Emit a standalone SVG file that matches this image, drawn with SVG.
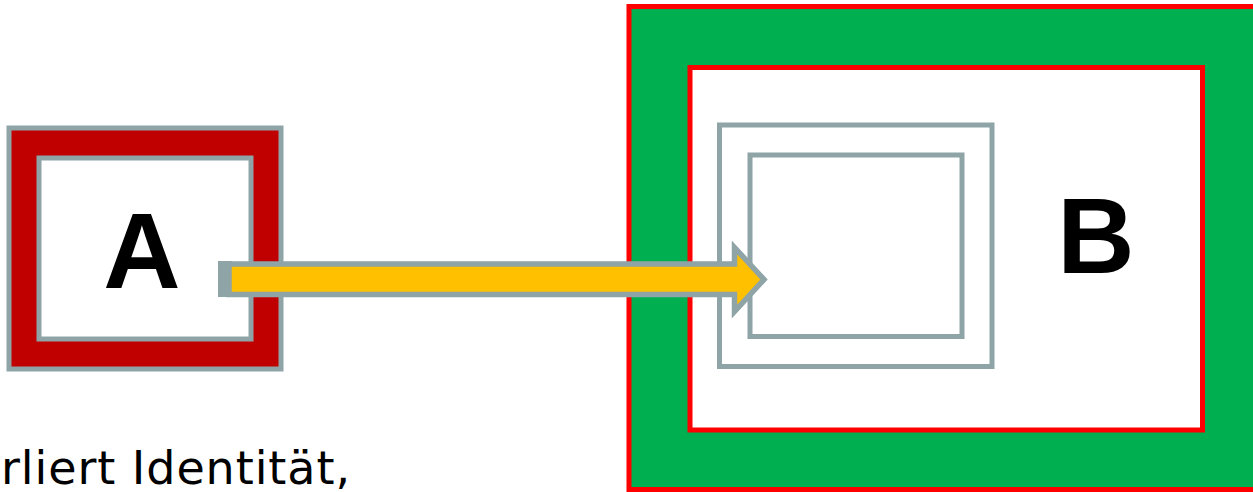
<svg xmlns="http://www.w3.org/2000/svg" width="1253" height="492" viewBox="0 0 1253 492">
  <style>
    .gray { fill: none; stroke: #8EA4A7; stroke-width: 5; }
    .red { stroke: #FF0000; stroke-width: 5; }
    .big { font-family: "Liberation Sans", Arial, sans-serif; font-weight: bold; font-size: 107px; fill: #000000; }
    .note { font-family: "DejaVu Sans", Verdana, sans-serif; font-size: 46px; fill: #000000; }
  </style>
  <rect x="0" y="0" width="1253" height="492" fill="#FFFFFF"/>
  <g id="nodeA">
    <rect x="9" y="128" width="272" height="241" fill="#C00000" stroke="#8EA4A7" stroke-width="5"/>
    <rect x="39" y="158" width="212" height="181" fill="#FFFFFF" stroke="#8EA4A7" stroke-width="5"/>
    <text class="big" x="142" y="288" text-anchor="middle">A</text>
  </g>
  <g id="nodeB">
    <rect class="red" x="629" y="6.5" width="640" height="483" fill="#00B050"/>
    <rect class="red" x="690" y="67.5" width="512.5" height="362.5" fill="#FFFFFF"/>
    <rect class="gray" x="719.5" y="125" width="272.5" height="241.5"/>
    <rect class="gray" x="750" y="155" width="212" height="181.5"/>
    <text class="big" x="1096" y="273" text-anchor="middle">B</text>
  </g>
  <g id="connectors">
    <rect x="218" y="261" width="14" height="36" fill="#8EA4A7"/>
    <polygon points="229,264 734.5,264 734.5,247.5 764,279.5 734.5,311.5 734.5,294.5 229,294.5" fill="#FFC000" stroke="#8EA4A7" stroke-width="5.5" stroke-linejoin="miter"/>
  </g>
  <text class="note" x="1" y="484" textLength="349" lengthAdjust="spacing">rliert Identität,</text>
</svg>
